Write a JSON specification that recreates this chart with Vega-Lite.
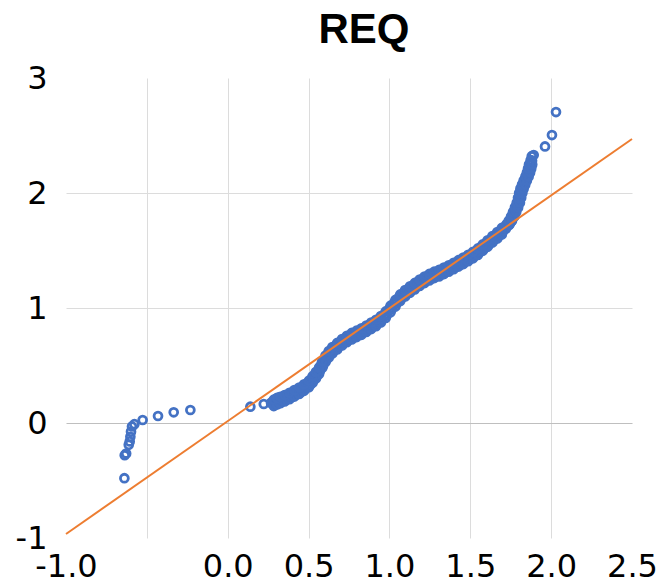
{
  "$schema": "https://vega.github.io/schema/vega-lite/v6.json",
  "width": 566,
  "height": 460,
  "autosize": {"type": "none"},
  "padding": {"left": 66, "top": 78, "right": 29, "bottom": 49},
  "background": "white",
  "title": {"text": "REQ", "font": "Liberation Sans", "fontSize": 42, "fontWeight": "bold", "color": "#000000", "anchor": "middle", "frame": "group", "dx": 15, "baseline": "alphabetic", "offset": -23},
  "config": {"view": {"stroke": null}},
  "datasets": {
    "pts": [
      {"x": -0.639, "y": -0.48}, {"x": -0.637, "y": -0.28}, {"x": -0.628, "y": -0.265}, {"x": -0.612, "y": -0.19},
      {"x": -0.606, "y": -0.16}, {"x": -0.602, "y": -0.12}, {"x": -0.598, "y": -0.075}, {"x": -0.592, "y": -0.03},
      {"x": -0.577, "y": -0.01}, {"x": -0.526, "y": 0.026}, {"x": -0.431, "y": 0.061}, {"x": -0.334, "y": 0.093},
      {"x": -0.231, "y": 0.113}, {"x": 0.14, "y": 0.142}, {"x": 0.223, "y": 0.165}, {"x": 0.268, "y": 0.175},
      {"x": 0.28, "y": 0.19}, {"x": 0.29, "y": 0.16}, {"x": 0.30, "y": 0.21}, {"x": 0.31, "y": 0.17},
      {"x": 0.32, "y": 0.22}, {"x": 0.33, "y": 0.18}, {"x": 0.345, "y": 0.23}, {"x": 0.36, "y": 0.20},
      {"x": 0.375, "y": 0.25}, {"x": 0.39, "y": 0.22}, {"x": 0.405, "y": 0.27}, {"x": 0.42, "y": 0.245},
      {"x": 0.435, "y": 0.295}, {"x": 0.45, "y": 0.265}, {"x": 0.465, "y": 0.32}, {"x": 0.48, "y": 0.295},
      {"x": 0.495, "y": 0.35}, {"x": 0.51, "y": 0.33}, {"x": 0.52, "y": 0.385}, {"x": 0.53, "y": 0.37},
      {"x": 0.54, "y": 0.425}, {"x": 0.55, "y": 0.405}, {"x": 0.56, "y": 0.46}, {"x": 0.57, "y": 0.45},
      {"x": 0.58, "y": 0.515}, {"x": 0.59, "y": 0.50}, {"x": 0.60, "y": 0.565}, {"x": 0.61, "y": 0.55},
      {"x": 0.62, "y": 0.605}, {"x": 0.63, "y": 0.59}, {"x": 0.64, "y": 0.64}, {"x": 0.655, "y": 0.625},
      {"x": 0.67, "y": 0.675}, {"x": 0.685, "y": 0.66}, {"x": 0.70, "y": 0.71}, {"x": 0.715, "y": 0.695},
      {"x": 0.73, "y": 0.74}, {"x": 0.745, "y": 0.72}, {"x": 0.76, "y": 0.765}, {"x": 0.775, "y": 0.745},
      {"x": 0.79, "y": 0.785}, {"x": 0.805, "y": 0.765}, {"x": 0.82, "y": 0.805}, {"x": 0.835, "y": 0.785},
      {"x": 0.85, "y": 0.83}, {"x": 0.865, "y": 0.81}, {"x": 0.88, "y": 0.855}, {"x": 0.895, "y": 0.835},
      {"x": 0.91, "y": 0.88}, {"x": 0.925, "y": 0.86}, {"x": 0.94, "y": 0.91}, {"x": 0.955, "y": 0.895},
      {"x": 0.97, "y": 0.945}, {"x": 0.985, "y": 0.94}, {"x": 1.00, "y": 0.995}, {"x": 1.015, "y": 0.99},
      {"x": 1.03, "y": 1.045}, {"x": 1.045, "y": 1.04}, {"x": 1.06, "y": 1.095}, {"x": 1.075, "y": 1.085},
      {"x": 1.09, "y": 1.135}, {"x": 1.105, "y": 1.12}, {"x": 1.12, "y": 1.17}, {"x": 1.135, "y": 1.15},
      {"x": 1.15, "y": 1.20}, {"x": 1.165, "y": 1.18}, {"x": 1.18, "y": 1.23}, {"x": 1.195, "y": 1.21},
      {"x": 1.21, "y": 1.255}, {"x": 1.225, "y": 1.235}, {"x": 1.24, "y": 1.28}, {"x": 1.255, "y": 1.255},
      {"x": 1.27, "y": 1.30}, {"x": 1.285, "y": 1.275}, {"x": 1.30, "y": 1.315}, {"x": 1.315, "y": 1.29},
      {"x": 1.33, "y": 1.335}, {"x": 1.345, "y": 1.31}, {"x": 1.36, "y": 1.355}, {"x": 1.375, "y": 1.33},
      {"x": 1.39, "y": 1.375}, {"x": 1.405, "y": 1.355}, {"x": 1.42, "y": 1.40}, {"x": 1.435, "y": 1.375},
      {"x": 1.45, "y": 1.42}, {"x": 1.465, "y": 1.40}, {"x": 1.48, "y": 1.445}, {"x": 1.495, "y": 1.425},
      {"x": 1.51, "y": 1.47}, {"x": 1.525, "y": 1.45}, {"x": 1.54, "y": 1.50}, {"x": 1.555, "y": 1.48},
      {"x": 1.57, "y": 1.535}, {"x": 1.585, "y": 1.515}, {"x": 1.60, "y": 1.57}, {"x": 1.615, "y": 1.55},
      {"x": 1.63, "y": 1.605}, {"x": 1.645, "y": 1.59}, {"x": 1.66, "y": 1.64}, {"x": 1.675, "y": 1.625},
      {"x": 1.69, "y": 1.675}, {"x": 1.70, "y": 1.66}, {"x": 1.712, "y": 1.705}, {"x": 1.72, "y": 1.69},
      {"x": 1.73, "y": 1.735}, {"x": 1.738, "y": 1.72}, {"x": 1.745, "y": 1.765}, {"x": 1.752, "y": 1.75},
      {"x": 1.758, "y": 1.80}, {"x": 1.766, "y": 1.79}, {"x": 1.77, "y": 1.84}, {"x": 1.778, "y": 1.83},
      {"x": 1.782, "y": 1.88}, {"x": 1.79, "y": 1.87}, {"x": 1.793, "y": 1.92}, {"x": 1.80, "y": 1.91},
      {"x": 1.80, "y": 1.96}, {"x": 1.81, "y": 1.955}, {"x": 1.807, "y": 2.00}, {"x": 1.817, "y": 2.00},
      {"x": 1.815, "y": 2.04}, {"x": 1.825, "y": 2.035}, {"x": 1.825, "y": 2.075}, {"x": 1.835, "y": 2.07},
      {"x": 1.835, "y": 2.11}, {"x": 1.845, "y": 2.105}, {"x": 1.846, "y": 2.145}, {"x": 1.856, "y": 2.14},
      {"x": 1.855, "y": 2.18}, {"x": 1.865, "y": 2.175}, {"x": 1.862, "y": 2.215}, {"x": 1.872, "y": 2.21},
      {"x": 1.868, "y": 2.25}, {"x": 1.878, "y": 2.245}, {"x": 1.873, "y": 2.285}, {"x": 1.882, "y": 2.28},
      {"x": 1.88, "y": 2.32}, {"x": 1.892, "y": 2.33},
      {"x": 1.962, "y": 2.405}, {"x": 2.005, "y": 2.504}, {"x": 2.03, "y": 2.704},
      {"x": 0.285, "y": 0.175}, {"x": 0.305, "y": 0.19}, {"x": 0.325, "y": 0.2}, {"x": 0.352, "y": 0.215},
      {"x": 0.382, "y": 0.235}, {"x": 0.412, "y": 0.258}, {"x": 0.442, "y": 0.28}, {"x": 0.472, "y": 0.308},
      {"x": 0.502, "y": 0.34}, {"x": 0.525, "y": 0.378}, {"x": 0.545, "y": 0.415}, {"x": 0.565, "y": 0.455},
      {"x": 0.585, "y": 0.508}, {"x": 0.605, "y": 0.558}, {"x": 0.625, "y": 0.598}, {"x": 0.647, "y": 0.632},
      {"x": 0.677, "y": 0.668}, {"x": 0.707, "y": 0.702}, {"x": 0.737, "y": 0.73}, {"x": 0.767, "y": 0.755},
      {"x": 0.797, "y": 0.775}, {"x": 0.827, "y": 0.795}, {"x": 0.857, "y": 0.82}, {"x": 0.887, "y": 0.845},
      {"x": 0.917, "y": 0.87}, {"x": 0.947, "y": 0.902}, {"x": 0.977, "y": 0.942}, {"x": 1.007, "y": 0.992},
      {"x": 1.037, "y": 1.042}, {"x": 1.067, "y": 1.09}, {"x": 1.097, "y": 1.128}, {"x": 1.127, "y": 1.16},
      {"x": 1.157, "y": 1.19}, {"x": 1.187, "y": 1.22}, {"x": 1.217, "y": 1.245}, {"x": 1.247, "y": 1.268},
      {"x": 1.277, "y": 1.288}, {"x": 1.307, "y": 1.303}, {"x": 1.337, "y": 1.323}, {"x": 1.367, "y": 1.343},
      {"x": 1.397, "y": 1.365}, {"x": 1.427, "y": 1.388}, {"x": 1.457, "y": 1.41}, {"x": 1.487, "y": 1.435},
      {"x": 1.517, "y": 1.46}, {"x": 1.547, "y": 1.49}, {"x": 1.577, "y": 1.525}, {"x": 1.607, "y": 1.56},
      {"x": 1.637, "y": 1.598}, {"x": 1.667, "y": 1.632}, {"x": 1.695, "y": 1.668}, {"x": 1.716, "y": 1.698},
      {"x": 1.734, "y": 1.728}, {"x": 1.748, "y": 1.758}, {"x": 1.762, "y": 1.795}, {"x": 1.774, "y": 1.835},
      {"x": 1.786, "y": 1.875}, {"x": 1.797, "y": 1.915}, {"x": 1.805, "y": 1.958}, {"x": 1.812, "y": 2.0},
      {"x": 1.82, "y": 2.038}, {"x": 1.83, "y": 2.073}, {"x": 1.84, "y": 2.108}, {"x": 1.851, "y": 2.143},
      {"x": 1.86, "y": 2.178}, {"x": 1.867, "y": 2.213}, {"x": 1.873, "y": 2.248}, {"x": 1.878, "y": 2.283},
      {"x": 0.285, "y": 0.147}, {"x": 0.305, "y": 0.162}, {"x": 0.325, "y": 0.172}, {"x": 0.352, "y": 0.187},
      {"x": 0.382, "y": 0.207}, {"x": 0.412, "y": 0.23}, {"x": 0.442, "y": 0.252}, {"x": 0.472, "y": 0.28},
      {"x": 0.502, "y": 0.312}, {"x": 0.525, "y": 0.35}, {"x": 0.545, "y": 0.387}, {"x": 0.565, "y": 0.427},
      {"x": 0.585, "y": 0.48}, {"x": 0.605, "y": 0.53}, {"x": 0.625, "y": 0.57}, {"x": 0.647, "y": 0.604},
      {"x": 0.677, "y": 0.64}, {"x": 0.707, "y": 0.674}, {"x": 0.737, "y": 0.702}, {"x": 0.767, "y": 0.727},
      {"x": 0.797, "y": 0.747}, {"x": 0.827, "y": 0.767}, {"x": 0.857, "y": 0.792}, {"x": 0.887, "y": 0.817},
      {"x": 0.917, "y": 0.842}, {"x": 0.947, "y": 0.874}, {"x": 0.977, "y": 0.914}, {"x": 1.007, "y": 0.964},
      {"x": 1.037, "y": 1.014}, {"x": 1.067, "y": 1.062}, {"x": 1.097, "y": 1.1}, {"x": 1.127, "y": 1.132},
      {"x": 1.157, "y": 1.162}, {"x": 1.187, "y": 1.192}, {"x": 1.217, "y": 1.217}, {"x": 1.247, "y": 1.24},
      {"x": 1.277, "y": 1.26}, {"x": 1.307, "y": 1.275}, {"x": 1.337, "y": 1.295}, {"x": 1.367, "y": 1.315},
      {"x": 1.397, "y": 1.337}, {"x": 1.427, "y": 1.36}, {"x": 1.457, "y": 1.382}, {"x": 1.487, "y": 1.407},
      {"x": 1.517, "y": 1.432}, {"x": 1.547, "y": 1.462}, {"x": 1.577, "y": 1.497}, {"x": 1.607, "y": 1.532},
      {"x": 1.637, "y": 1.57}, {"x": 1.667, "y": 1.604}, {"x": 1.695, "y": 1.64},
      {"x": 0.285, "y": 0.203}, {"x": 0.305, "y": 0.218}, {"x": 0.325, "y": 0.228}, {"x": 0.352, "y": 0.243},
      {"x": 0.382, "y": 0.263}, {"x": 0.412, "y": 0.286}, {"x": 0.442, "y": 0.308}, {"x": 0.472, "y": 0.336},
      {"x": 0.502, "y": 0.368}, {"x": 0.525, "y": 0.406}, {"x": 0.545, "y": 0.443}, {"x": 0.565, "y": 0.483},
      {"x": 0.585, "y": 0.536}, {"x": 0.605, "y": 0.586}, {"x": 0.625, "y": 0.626}, {"x": 0.647, "y": 0.66},
      {"x": 0.677, "y": 0.696}, {"x": 0.707, "y": 0.73}, {"x": 0.737, "y": 0.758}, {"x": 0.767, "y": 0.783},
      {"x": 0.797, "y": 0.803}, {"x": 0.827, "y": 0.823}, {"x": 0.857, "y": 0.848}, {"x": 0.887, "y": 0.873},
      {"x": 0.917, "y": 0.898}, {"x": 0.947, "y": 0.93}, {"x": 0.977, "y": 0.97}, {"x": 1.007, "y": 1.02},
      {"x": 1.037, "y": 1.07}, {"x": 1.067, "y": 1.118}, {"x": 1.097, "y": 1.156}, {"x": 1.127, "y": 1.188},
      {"x": 1.157, "y": 1.218}, {"x": 1.187, "y": 1.248}, {"x": 1.217, "y": 1.273}, {"x": 1.247, "y": 1.296},
      {"x": 1.277, "y": 1.316}, {"x": 1.307, "y": 1.331}, {"x": 1.337, "y": 1.351}, {"x": 1.367, "y": 1.371},
      {"x": 1.397, "y": 1.393}, {"x": 1.427, "y": 1.416}, {"x": 1.457, "y": 1.438}, {"x": 1.487, "y": 1.463},
      {"x": 1.517, "y": 1.488}, {"x": 1.547, "y": 1.518}, {"x": 1.577, "y": 1.553}, {"x": 1.607, "y": 1.588},
      {"x": 1.637, "y": 1.626}, {"x": 1.667, "y": 1.66}, {"x": 1.695, "y": 1.696},
      {"x": 1.724, "y": 1.728}, {"x": 1.744, "y": 1.728}, {"x": 1.738, "y": 1.758}, {"x": 1.758, "y": 1.758},
      {"x": 1.752, "y": 1.795}, {"x": 1.772, "y": 1.795}, {"x": 1.764, "y": 1.835}, {"x": 1.784, "y": 1.835},
      {"x": 1.776, "y": 1.875}, {"x": 1.796, "y": 1.875}, {"x": 1.787, "y": 1.915}, {"x": 1.807, "y": 1.915},
      {"x": 1.795, "y": 1.958}, {"x": 1.815, "y": 1.958}, {"x": 1.802, "y": 2.0}, {"x": 1.822, "y": 2.0},
      {"x": 1.81, "y": 2.038}, {"x": 1.83, "y": 2.038}, {"x": 1.82, "y": 2.073}, {"x": 1.84, "y": 2.073},
      {"x": 1.83, "y": 2.108}, {"x": 1.85, "y": 2.108}, {"x": 1.841, "y": 2.143}, {"x": 1.861, "y": 2.143},
      {"x": 1.85, "y": 2.178}, {"x": 1.87, "y": 2.178}, {"x": 1.857, "y": 2.213}, {"x": 1.877, "y": 2.213},
      {"x": 1.863, "y": 2.248}, {"x": 1.883, "y": 2.248}
    ],
    "fit": [
      {"x": -1.0, "y": -0.965},
      {"x": 2.5, "y": 2.47}
    ]
  },
  "layer": [
    {
      "data": {"name": "fit"},
      "mark": {"type": "line", "color": "#ED7D31", "strokeWidth": 2, "opacity": 0},
      "encoding": {
        "x": {
          "field": "x", "type": "quantitative",
          "scale": {"domain": [-1, 2.5], "nice": false, "zero": false},
          "axis": {
            "title": null,
            "values": [-1, -0.5, 0, 0.5, 1, 1.5, 2, 2.5],
            "labelExpr": "datum.value == -0.5 ? '' : (datum.value == -1 ? '-1.0' : format(datum.value, '.1f'))",
            "domain": false, "ticks": false, "tickSize": 0,
            "grid": true,
            "gridColor": "#dcdcdc",
            "gridWidth": 1,
            "gridOpacity": {"condition": {"test": "datum.value == -1 || datum.value == 2.5", "value": 0}, "value": 1},
            "labelFont": "DejaVu Sans", "labelFontSize": 32, "labelColor": "#000000",
            "labelPadding": 13, "labelFlush": false, "labelOverlap": false
          }
        },
        "y": {
          "field": "y", "type": "quantitative",
          "scale": {"domain": [-1, 3], "nice": false, "zero": false},
          "axis": {
            "title": null,
            "values": [-1, 0, 1, 2, 3],
            "labelExpr": "datum.value == -1 ? '-1' : format(datum.value, 'd')",
            "domain": false, "ticks": false, "tickSize": 0,
            "grid": true,
            "gridColor": {"condition": {"test": "datum.value == 0", "value": "#bfbfbf"}, "value": "#dcdcdc"},
            "gridWidth": 1,
            "gridOpacity": {"condition": {"test": "datum.value == -1 || datum.value == 3", "value": 0}, "value": 1},
            "labelFont": "DejaVu Sans", "labelFontSize": 32, "labelColor": "#000000",
            "labelPadding": 19, "labelOverlap": false
          }
        }
      }
    },
    {
      "data": {"name": "pts"},
      "mark": {"type": "point", "shape": "circle", "filled": false, "stroke": "#4472C4", "strokeWidth": 2.8, "size": 62, "opacity": 1},
      "encoding": {
        "x": {"field": "x", "type": "quantitative"},
        "y": {"field": "y", "type": "quantitative"}
      }
    },
    {
      "data": {"name": "fit"},
      "mark": {"type": "line", "color": "#ED7D31", "strokeWidth": 2},
      "encoding": {
        "x": {"field": "x", "type": "quantitative"},
        "y": {"field": "y", "type": "quantitative"}
      }
    }
  ]
}
